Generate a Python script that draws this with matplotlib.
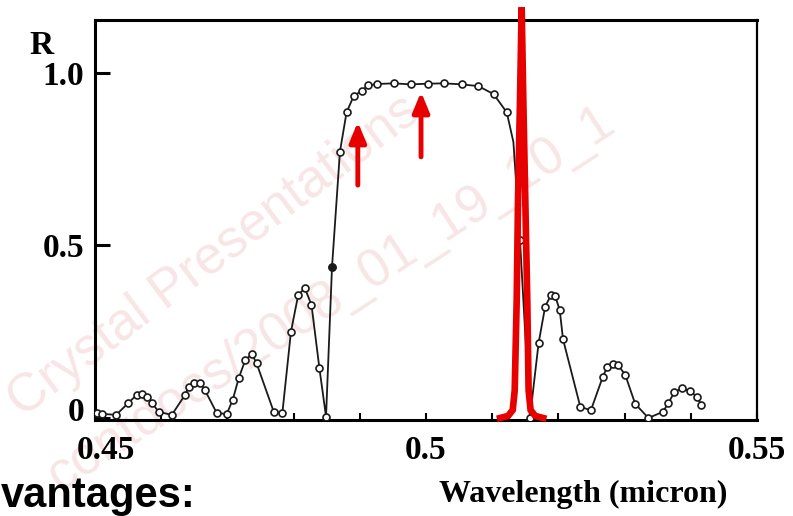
import matplotlib
matplotlib.use("Agg")
import matplotlib.pyplot as plt
from matplotlib.ticker import FixedLocator
from matplotlib.transforms import ScaledTranslation

# ---------------- data ----------------
wavelength = [
    0.4503, 0.4511, 0.4532, 0.4550, 0.4563, 0.4571, 0.4578, 0.4586, 0.4596, 0.4616,
    0.4636, 0.4642, 0.4650, 0.4659, 0.4666, 0.4684, 0.4699, 0.4708, 0.4717, 0.4727,
    0.4737, 0.4744,
    0.4770, 0.4783, 0.4796, 0.4807, 0.4817, 0.4827, 0.4839, 0.4849,
    0.4858, 0.4870, 0.4880, 0.4891, 0.4903, 0.4912, 0.4926, 0.4951, 0.4977, 0.5003,
    0.5027, 0.5054, 0.5079, 0.5102, 0.5122, 0.5132, 0.5142, 0.5157,
    0.5170, 0.5180, 0.5189, 0.5195, 0.5202, 0.5207, 0.5233, 0.5249,
    0.5267, 0.5274, 0.5283, 0.5290, 0.5301, 0.5316, 0.5336,
    0.5358, 0.5366, 0.5375, 0.5386, 0.5399, 0.5409, 0.5416,
]
reflectance = [
    0.014, 0.012, 0.009, 0.043, 0.067, 0.069, 0.062, 0.044, 0.018, 0.009,
    0.067, 0.091, 0.102, 0.101, 0.081, 0.014, 0.012, 0.052, 0.115, 0.168,
    0.185, 0.159,
    0.018, 0.014, 0.250, 0.357, 0.376, 0.328, 0.144, 0.004,
    0.437, 0.772, 0.886, 0.934, 0.948, 0.964, 0.968, 0.970, 0.967, 0.969,
    0.970, 0.967, 0.962, 0.939, 0.886, 0.800, 0.516, 0.000,
    0.216, 0.323, 0.357, 0.354, 0.313, 0.228, 0.033, 0.022,
    0.119, 0.149, 0.157, 0.154, 0.125, 0.041, 0.000,
    0.018, 0.043, 0.074, 0.086, 0.078, 0.062, 0.038,
]
filled_index = 30          # the one solid marker on the rising edge
no_marker_index = 45       # curve-only point

laser_wl = [0.5112, 0.5124, 0.5131, 0.5134, 0.5137, 0.5139, 0.5142, 0.51445,
            0.5147, 0.5150, 0.5153, 0.5155, 0.5158, 0.5165, 0.5177]
laser_R = [0.0, 0.006, 0.023, 0.08, 0.34, 0.63, 0.92, 1.19,
           0.92, 0.63, 0.34, 0.08, 0.023, 0.006, 0.0]

arrow_tails = [(0.4897, 0.675), (0.49925, 0.757)]
arrow_tips = [(0.4897, 0.858), (0.49925, 0.945)]

x_major = [0.45, 0.5, 0.55]
x_minor = [0.46, 0.47, 0.48, 0.49, 0.51, 0.52, 0.53, 0.54]
x_labels = ["0.45", "0.5", "0.55"]
y_ticks = [0, 0.5, 1.0]
y_labels = ["0", "0.5", "1.0"]

# ---------------- figure ----------------
W, H = 793, 516
fig = plt.figure(figsize=(W / 100, H / 100), dpi=100)
fig.patch.set_facecolor("white")

def fx(px):
    return px / W

def fy(py):
    return 1 - py / H

ax = fig.add_axes([fx(95), fy(420), (757 - 95) / W, (420 - 20) / H])
ax.patch.set_alpha(0)

serif = ["Liberation Serif", "DejaVu Serif"]
wm_color = "#f8e6e6"

# faint watermark (behind everything)
fig.text(fx(22), fy(418), "Crystal Presentations", rotation=37,
         rotation_mode="anchor", ha="left", va="baseline",
         fontsize=38, color=wm_color, family=["Liberation Sans"], zorder=-5)
fig.text(fx(60), fy(492), "contdocs/2008_01_19_10_1", rotation=33,
         rotation_mode="anchor", ha="left", va="baseline",
         fontsize=38, color=wm_color, family=["Liberation Sans"], zorder=-5)

# black reflectance curve
marker_idx = [i for i in range(len(wavelength)) if i != no_marker_index]
ax.plot(wavelength, reflectance, color="#1a1a1a", lw=1.3,
        marker="o", markersize=5, markerfacecolor="white",
        markeredgecolor="#1a1a1a", markeredgewidth=1.2,
        markevery=marker_idx, zorder=3)
ax.plot([wavelength[filled_index]], [reflectance[filled_index]], "o",
        color="#1a1a1a", markersize=5, zorder=4)

# red laser line
ax.plot(laser_wl, laser_R, color="#e60000", lw=4.8, clip_on=False,
        solid_joinstyle="miter", zorder=5)

# red arrows
for tail, tip in zip(arrow_tails, arrow_tips):
    ax.annotate("", xy=tip, xytext=tail,
                arrowprops=dict(arrowstyle="-|>,head_length=1.2,head_width=0.5",
                                color="#e60000", lw=3.5, shrinkA=0, shrinkB=0),
                zorder=6)

ax.set_xlim(0.45, 0.55)
ax.set_ylim(-0.0058, 1.1536)

for s in ax.spines.values():
    s.set_linewidth(2.2)
    s.set_color("black")
ax.spines["right"].set_linewidth(1.6)

ax.xaxis.set_major_locator(FixedLocator(x_major))
ax.xaxis.set_minor_locator(FixedLocator(x_minor))
ax.set_xticklabels(x_labels)
ax.set_yticks(y_ticks)
ax.set_yticklabels(y_labels)

ax.tick_params(axis="x", which="major", direction="in", length=5, width=1.5,
               pad=11, labelsize=24)
ax.tick_params(axis="x", which="minor", direction="in", length=5, width=1.5)
ax.tick_params(axis="y", which="major", direction="in", length=11, width=2.2,
               pad=8, labelsize=24)
xl = ax.get_xticklabels()
yl = ax.get_yticklabels()
for lab in xl + yl:
    lab.set_fontfamily(serif)
    lab.set_fontweight("bold")
# small label offsets seen in the scan
xl[0].set_transform(xl[0].get_transform() + ScaledTranslation(0.11, 0, fig.dpi_scale_trans))
yl[0].set_transform(yl[0].get_transform() + ScaledTranslation(0, 0.09, fig.dpi_scale_trans))

fig.text(fx(42), fy(46), "R", fontsize=24, fontweight="bold", family=serif,
         ha="center", va="center")
fig.text(fx(583), fy(494), "Wavelength (micron)", fontsize=23,
         fontweight="bold", family=serif, ha="center", va="center")
fig.text(fx(1), fy(507), "vantages:", fontsize=30, fontweight="bold",
         family=["Liberation Sans"], ha="left", va="baseline")

fig.savefig("out.png", dpi=100, facecolor="white")
